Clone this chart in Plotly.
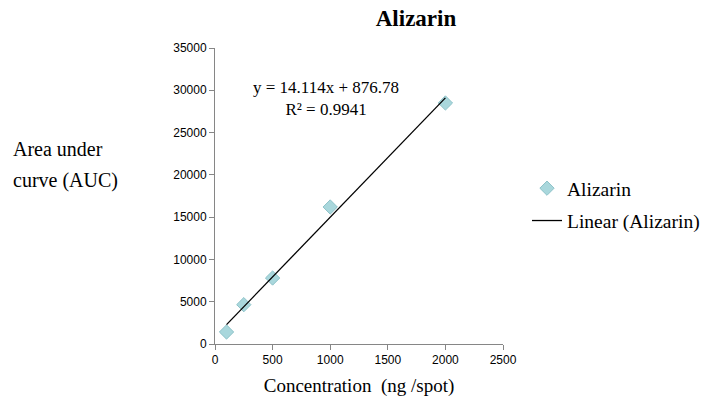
import plotly.graph_objects as go

conc = [100, 250, 500, 1000, 2000]
auc = [1420, 4650, 7800, 16200, 28500]
slope = 14.114
intercept = 876.78
fit_x = [min(conc), max(conc)]
fit_y = [slope * v + intercept for v in fit_x]

serif = "Liberation Serif"
sans = "Liberation Sans, Arial, sans-serif"

fig = go.Figure()
fig.add_trace(go.Scatter(
    x=conc, y=auc, mode="markers", name="Alizarin", legendgroup="a",
    marker=dict(symbol="diamond", size=11, color="#A9D7DC",
                line=dict(color="#8EC3C9", width=1)),
))
fig.add_trace(go.Scatter(
    x=fit_x, y=fit_y, mode="lines", name="Linear (Alizarin)", legendgroup="b",
    line=dict(color="black", width=1.3),
))

fig.update_layout(
    width=708, height=402,
    margin=dict(l=215, r=205, t=48, b=58),
    paper_bgcolor="white", plot_bgcolor="white",
    title=dict(text="Alizarin", x=416/708, xanchor="center", xref="container",
               y=1 - 18/402, yanchor="middle", yref="container",
               font=dict(family=serif, size=23, color="black", weight="bold")),
    showlegend=True,
    legend=dict(x=527/708, xref="container", y=1 - 169/402, yref="container",
                xanchor="left", yanchor="top",
                font=dict(family=serif, size=19.5, color="black"),
                traceorder="grouped", tracegroupgap=4,
                bgcolor="rgba(0,0,0,0)"),
    xaxis=dict(range=[0, 2500], tickvals=[0, 500, 1000, 1500, 2000, 2500],
               tickformat="d", automargin=False,
               showgrid=False, zeroline=False, showline=True, linecolor="#868686",
               linewidth=1, ticks="outside", ticklen=5, tickcolor="#868686",
               tickfont=dict(family=sans, size=12, color="black"),
               title=dict(text="Concentration  (ng /spot)", standoff=12,
                          font=dict(family=serif, size=19, color="black"))),
    yaxis=dict(range=[0, 35000], tickvals=[0, 5000, 10000, 15000, 20000, 25000, 30000, 35000],
               tickformat="d", automargin=False,
               showgrid=False, zeroline=False, showline=True, linecolor="#868686",
               linewidth=1, ticks="outside", ticklen=5, tickcolor="#868686",
               tickfont=dict(family=sans, size=12, color="black")),
)

for txt, ypix in [("Area under", 149), ("curve (AUC)", 180)]:
    fig.add_annotation(text=txt, xref="paper", yref="paper",
                       x=-(215 - 11) / 288, xanchor="left", y=(344 - ypix) / 296, yanchor="middle",
                       showarrow=False, align="left",
                       font=dict(family=serif, size=20, color="black"))
fig.add_annotation(text="y = 14.114x + 876.78<br>R² = 0.9941", xref="paper", yref="paper",
                   x=(326 - 215) / 288, xanchor="center", y=(344 - 98) / 296, yanchor="middle",
                   showarrow=False, align="center",
                   font=dict(family=serif, size=17, color="black"))

fig.write_html("out.html")
